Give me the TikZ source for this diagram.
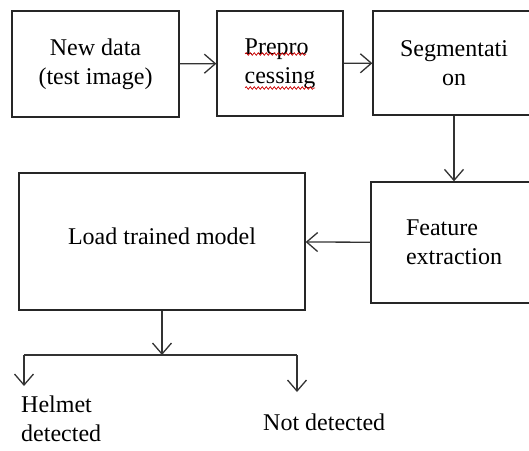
\documentclass[tikz,border=0pt]{standalone}
\usepackage{fontspec}
\setmainfont{Liberation Serif}
\usetikzlibrary{arrows.meta,decorations.pathmorphing}
\begin{document}
\begin{tikzpicture}[x=1pt,y=-1pt,
  box/.style={draw=black!85, line width=1.3pt, rectangle, inner sep=0pt, font=\fontsize{24}{29}\selectfont},
  txt/.style={inner sep=0pt, font=\fontsize{24}{29}\selectfont},
  arr/.style={draw=black!80, line width=1.3pt, -{Straight Barb[length=11pt,width=19pt,line width=1.3pt]}},
  ln/.style={draw=black!80, line width=1.3pt},
  wavy/.style={draw=red!80!black, line width=0.7pt, decorate, decoration={snake, amplitude=1.3pt, segment length=4pt}}]
\useasboundingbox (0,0) rectangle (529,450);
\clip (0,0) rectangle (529,450);
\node[box, minimum width=167pt, minimum height=106pt, align=center] (new) at (95.5,64) {New data\\(test image)};
\node[box, minimum width=126pt, minimum height=105pt, align=left] (pre) at (280,63.5) {Prepro\\cessing};
\node[box, minimum width=162pt, minimum height=104pt, align=center] (seg) at (454,63) {Segmentati\\on};
\node[box, minimum width=166pt, minimum height=121pt, align=left] (feat) at (454,242.5) {Feature\\extraction};
\node[box, minimum width=286pt, minimum height=137pt, text depth=10pt] (load) at (162,241.5) {Load trained model};
\node[txt, align=left, anchor=north west] (helm) at (21,396) {Helmet\\detected};
\node[txt, anchor=west] (notd) at (263,422) {Not detected};
\coordinate (split) at (162,355);
\coordinate (lft) at (24,355);
\coordinate (rgt) at (297,355);
\coordinate (lftend) at (24,386);
\coordinate (rgtend) at (297,392);
\draw[arr] (new) -- (pre);
\draw[arr] (pre) -- (seg);
\draw[arr] (seg) -- (feat);
\draw[arr] (feat) -- (load);
\draw[arr] (load.south) -- (split);
\draw[ln] (lft) -- (rgt);
\draw[arr] (lft) -- (lftend);
\draw[arr] (rgt) -- (rgtend);
\draw[wavy] (245,54) -- (306,54);
\draw[wavy] (245,88) -- (315,88);
\end{tikzpicture}
\end{document}
